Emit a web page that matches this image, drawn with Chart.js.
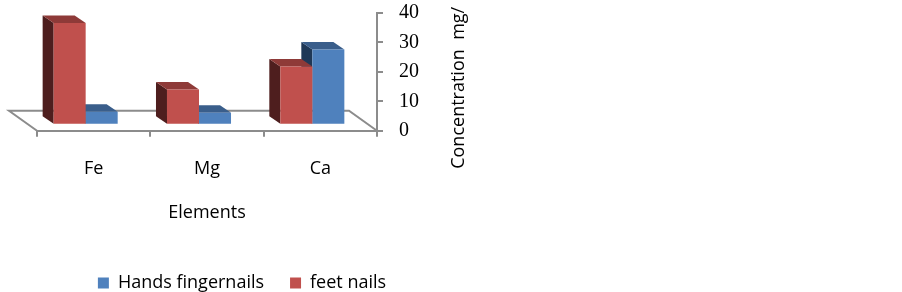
<!DOCTYPE html>
<html>
<head>
<meta charset="utf-8">
<script src="https://cdn.jsdelivr.net/npm/chart.js@4"></script>
<style>
    html, body { margin: 0; padding: 0; background: #fff; }
    #wrap { width: 484px; height: 292px; }
</style>
</head>
<body>
<div id="wrap"><canvas id="chart" width="484" height="292"></canvas></div>
<script>
const CATEGORIES = ['Fe', 'Mg', 'Ca'];
const FEET_NAILS = [34.6, 12, 19.8];
const HANDS_FINGERNAILS = [4.4, 4.1, 25.6];
const Y_TICKS = [0, 10, 20, 30, 40];
const X_TITLE = 'Elements';
const Y_TITLE = 'Concentration  mg/';

const AXIS_GRAY = '#8c8c8c';
const SANS = '"Open Sans", "Noto Sans", sans-serif';
const SERIF = '"Liberation Serif", serif';

// fake 3D depth (px): floor, bar thickness, and where bars sit inside the floor
const FLOOR = { dx: -28, dy: -20 };
const DEPTH = { dx: -11, dy: -7.5 };
const SHIFT = { dx: -8, dy: -6 };

const bar3d = {
    id: 'bar3d',
    beforeDatasetsDraw(chart) {
        const { ctx, chartArea: a } = chart;
        ctx.save();
        ctx.strokeStyle = AXIS_GRAY;
        ctx.lineWidth = 2;
        ctx.beginPath();
        ctx.moveTo(a.left, a.bottom);
        ctx.lineTo(a.left + FLOOR.dx, a.bottom + FLOOR.dy);
        ctx.lineTo(a.right + FLOOR.dx, a.bottom + FLOOR.dy);
        ctx.lineTo(a.right, a.bottom);
        ctx.stroke();
        ctx.restore();
        ctx.save();
        ctx.translate(SHIFT.dx, SHIFT.dy);
    },
    beforeDatasetDraw(chart, args) {
        const ctx = chart.ctx;
        const ds = chart.data.datasets[args.index];
        args.meta.data.forEach(bar => {
            const { x, y, base, width } = bar.getProps(['x', 'y', 'base', 'width'], true);
            const l = x - width / 2;
            const r = x + width / 2;
            ctx.fillStyle = ds.sideColor;
            ctx.beginPath();
            ctx.moveTo(l, base);
            ctx.lineTo(l, y);
            ctx.lineTo(l + DEPTH.dx, y + DEPTH.dy);
            ctx.lineTo(l + DEPTH.dx, base + DEPTH.dy);
            ctx.closePath();
            ctx.fill();
            ctx.fillStyle = ds.topColor;
            ctx.beginPath();
            ctx.moveTo(l, y);
            ctx.lineTo(r, y);
            ctx.lineTo(r + DEPTH.dx, y + DEPTH.dy);
            ctx.lineTo(l + DEPTH.dx, y + DEPTH.dy);
            ctx.closePath();
            ctx.fill();
        });
    },
    afterDatasetsDraw(chart) {
        chart.ctx.restore();
    },
    afterDraw(chart) {
        // y title reads bottom-to-top on the right side
        const { ctx, chartArea: a } = chart;
        ctx.save();
        ctx.translate(a.right + 82, a.bottom + 38);
        ctx.rotate(-Math.PI / 2);
        ctx.font = '18px ' + SANS;
        ctx.fillStyle = '#000';
        ctx.textAlign = 'left';
        ctx.textBaseline = 'middle';
        ctx.fillText(Y_TITLE, 0, 0);
        ctx.restore();
    }
};

new Chart(document.getElementById('chart').getContext('2d'), {
    type: 'bar',
    data: {
        labels: CATEGORIES,
        datasets: [
            {
                label: 'feet nails',
                data: FEET_NAILS,
                backgroundColor: '#c0504d',
                topColor: '#8e3a38',
                sideColor: '#4e1e1e',
                borderWidth: 0,
                clip: false,
            },
            {
                label: 'Hands fingernails',
                data: HANDS_FINGERNAILS,
                backgroundColor: '#4f81bd',
                topColor: '#3a5e8b',
                sideColor: '#1f3857',
                borderWidth: 0,
                clip: false,
            }
        ]
    },
    options: {
        responsive: false,
        animation: false,
        maintainAspectRatio: false,
        categoryPercentage: 0.565,
        barPercentage: 1,
        layout: { padding: { left: 37, top: 13, right: 37, bottom: -10 } },
        scales: {
            x: {
                grid: { drawOnChartArea: false, color: AXIS_GRAY, lineWidth: 2, tickLength: 6 },
                border: { color: AXIS_GRAY, width: 2 },
                ticks: { color: '#000', font: { family: SANS, size: 18 }, padding: 21 },
                title: {
                    display: true,
                    text: X_TITLE,
                    color: '#000',
                    font: { family: SANS, size: 18 },
                    padding: { top: 2, bottom: 24 }
                }
            },
            y: {
                position: 'right',
                min: 0,
                max: 40,
                afterBuildTicks: scale => { scale.ticks = Y_TICKS.map(v => ({ value: v })); },
                afterFit: scale => {
                    scale.width = 70;
                    scale.paddingTop = 0;
                    scale.paddingBottom = 0;
                },
                grid: { drawOnChartArea: false, color: AXIS_GRAY, lineWidth: 2, tickLength: 6 },
                border: { color: AXIS_GRAY, width: 2 },
                ticks: { color: '#000', font: { family: SERIF, size: 20 }, padding: 16, autoSkip: false }
            }
        },
        plugins: {
            legend: {
                position: 'bottom',
                reverse: true,
                labels: {
                    color: '#000',
                    font: { family: SANS, size: 18 },
                    boxWidth: 11,
                    boxHeight: 11,
                    padding: 26
                }
            },
            tooltip: { enabled: false }
        }
    },
    plugins: [bar3d]
});
</script>
</body>
</html>
